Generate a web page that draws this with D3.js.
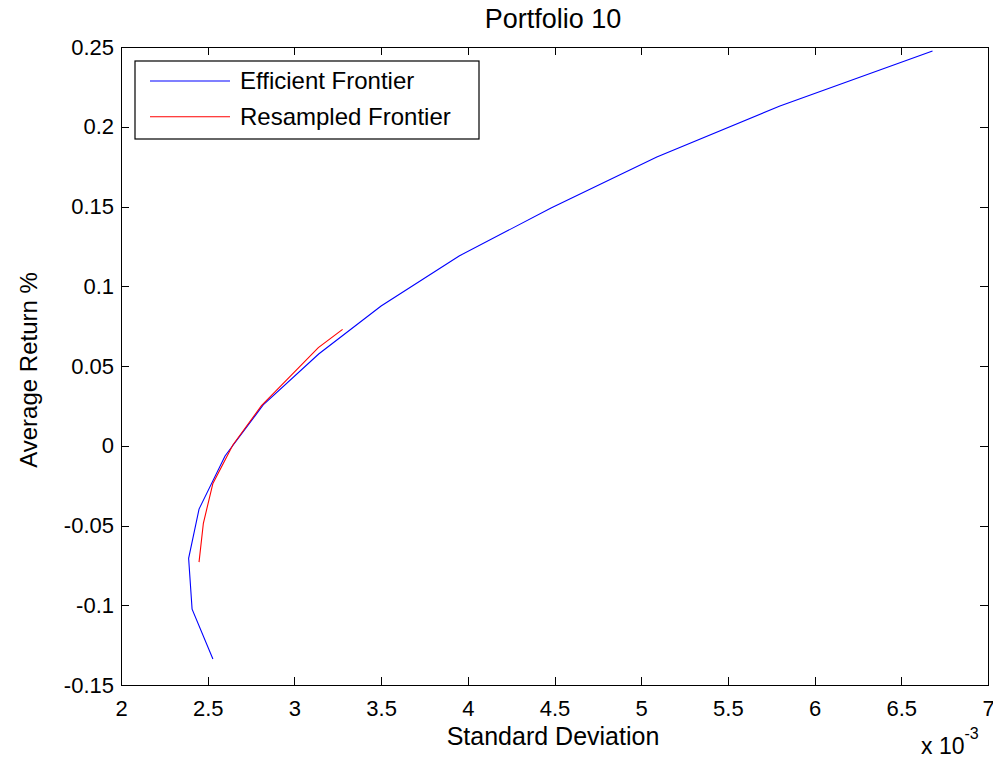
<!DOCTYPE html>
<html>
<head>
<meta charset="utf-8">
<title>Portfolio 10</title>
<script src="https://cdn.jsdelivr.net/npm/d3@7"></script>
<style>
    body { margin: 0; background: #fff; }
    svg { font-family: "Liberation Sans", Arial, sans-serif; }
    .axis path, .axis line { stroke: #000; shape-rendering: crispEdges; }
    .axis text { font-size: 22px; fill: #000; }
</style>
</head>
<body>
<script>
    // efficient frontier (std dev in units of 1e-3, average return %)
    var effStd = [2.53, 2.41, 2.39, 2.45, 2.60, 2.82, 3.14, 3.50, 3.95, 4.48, 5.09, 5.80, 6.68];
    var effRet = [-0.1337, -0.1025, -0.0706, -0.0397, -0.0064, 0.0256, 0.0575, 0.0876, 0.119, 0.149, 0.181, 0.213, 0.2475];

    // resampled frontier
    var resStd = [2.45, 2.475, 2.53, 2.645, 2.81, 3.138, 3.278];
    var resRet = [-0.073, -0.0486, -0.0236, 0.0005, 0.0252, 0.0615, 0.073];

    var xTicks = [2, 2.5, 3, 3.5, 4, 4.5, 5, 5.5, 6, 6.5, 7];
    var yTicks = [-0.15, -0.1, -0.05, 0, 0.05, 0.1, 0.15, 0.2, 0.25];

    var W = 993, H = 759;
    var margin = {top: 47, right: 5, bottom: 74, left: 121};
    var width = W - margin.left - margin.right,
        height = H - margin.top - margin.bottom;

    var svg = d3.select("body").append("svg")
        .attr("width", W)
        .attr("height", H);

    var g = svg.append("g")
        .attr("transform", "translate(" + margin.left + "," + margin.top + ")");

    var x = d3.scaleLinear().domain([2, 7]).range([0, width]);
    var y = d3.scaleLinear().domain([-0.15, 0.25]).range([height, 0]);

    // plain hyphen for negatives, like the original
    var fmt = function(d) { return String(d); };

    // axes with inward ticks on all four sides
    g.append("g").attr("class", "axis")
        .attr("transform", "translate(0," + height + ")")
        .call(d3.axisBottom(x).tickValues(xTicks).tickSize(-8).tickFormat(fmt))
        .selectAll("text").attr("y", 15).attr("dy", "0.71em");
    g.append("g").attr("class", "axis")
        .call(d3.axisTop(x).tickValues(xTicks).tickSize(-8).tickFormat(""));
    g.append("g").attr("class", "axis")
        .call(d3.axisLeft(y).tickValues(yTicks).tickSize(-8).tickPadding(7).tickFormat(fmt));
    g.append("g").attr("class", "axis")
        .attr("transform", "translate(" + width + ",0)")
        .call(d3.axisRight(y).tickValues(yTicks).tickSize(-8).tickFormat(""));

    g.selectAll(".axis path").attr("fill", "none");
    g.selectAll(".axis .tick line").attr("stroke", "#000");

    var line = d3.line()
        .x(function(d) { return x(d[0]); })
        .y(function(d) { return y(d[1]); });

    var effData = effStd.map(function(s, i) { return [s, effRet[i]]; });
    var resData = resStd.map(function(s, i) { return [s, resRet[i]]; });

    g.append("path").datum(effData)
        .attr("d", line).attr("fill", "none").attr("stroke", "#0000ff").attr("stroke-width", 1.1);
    g.append("path").datum(resData)
        .attr("d", line).attr("fill", "none").attr("stroke", "#ff0000").attr("stroke-width", 1.1);

    // title and labels
    svg.append("text")
        .attr("x", 553).attr("y", 28)
        .attr("text-anchor", "middle").style("font-size", "27px")
        .text("Portfolio 10");

    svg.append("text")
        .attr("x", 553).attr("y", 745)
        .attr("text-anchor", "middle").style("font-size", "25px")
        .text("Standard Deviation");

    svg.append("text")
        .attr("transform", "translate(37,370) rotate(-90)")
        .attr("text-anchor", "middle").style("font-size", "24px")
        .text("Average Return %");

    var expo = svg.append("text").attr("x", 921).attr("y", 754).style("font-size", "23px");
    expo.append("tspan").text("x 10");
    expo.append("tspan").attr("dy", -15).style("font-size", "16px").text("-3");

    // legend
    var legend = g.append("g").attr("transform", "translate(14,14)");
    legend.append("rect")
        .attr("width", 344).attr("height", 78)
        .attr("fill", "#fff").attr("stroke", "#000").attr("stroke-width", 1.2);
    var items = [["Efficient Frontier", "#0000ff"], ["Resampled Frontier", "#ff0000"]];
    items.forEach(function(it, i) {
        var yy = 20 + i * 35.7;
        legend.append("line")
            .attr("x1", 15).attr("x2", 95).attr("y1", yy).attr("y2", yy)
            .attr("stroke", it[1]).attr("stroke-width", 1.1);
        legend.append("text")
            .attr("x", 105).attr("y", yy).attr("dy", "0.35em")
            .style("font-size", "24px")
            .text(it[0]);
    });
</script>
</body>
</html>
